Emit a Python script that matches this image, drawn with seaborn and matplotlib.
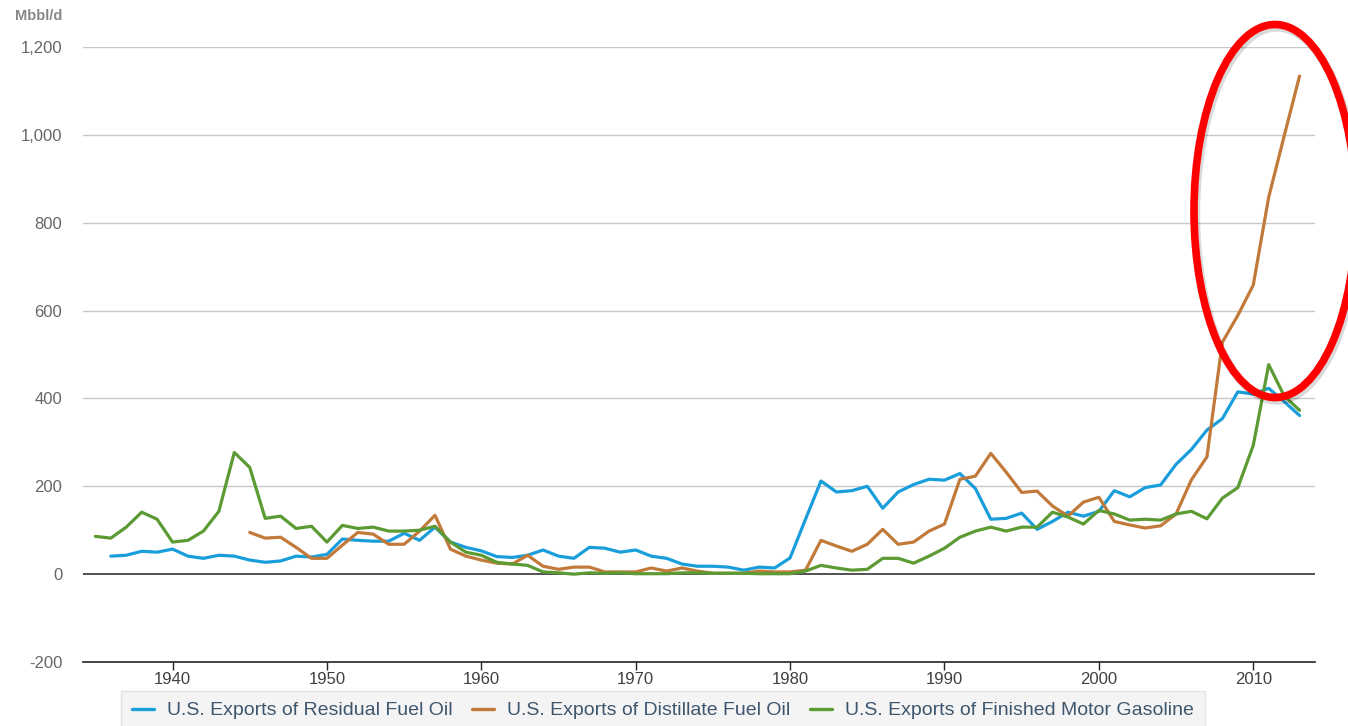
import numpy as np
import pandas as pd
import matplotlib
matplotlib.use("Agg")
import matplotlib.pyplot as plt
from matplotlib.patches import Ellipse
from matplotlib.lines import Line2D
import seaborn as sns

# ---------------- data (Mbbl/d) ----------------
residual_years = list(range(1936, 2014))
residual = [41, 43, 52, 50, 57, 41, 36, 43, 41, 32, 27, 30, 41, 39, 45, 80, 77, 75, 75, 93,
            77, 107, 73, 61, 53, 40, 38, 43, 55, 41, 36, 61, 59, 50, 55, 41, 36, 23, 18, 18,
            16, 9, 16, 14, 37, 125, 212, 187, 190, 200, 150, 187, 204, 216, 214, 229, 195, 125, 127, 139,
            102, 120, 141, 132, 143, 190, 176, 197, 203, 250, 284, 328, 354, 415, 410, 423, 393, 361]

distillate_years = list(range(1945, 2014))
distillate = [95, 82, 84, 61, 36, 36, 66, 95, 91, 68, 68, 98, 134, 57, 41, 32, 25, 23, 43, 18,
              11, 16, 16, 5, 5, 5, 14, 7, 14, 7, 2, 2, 2, 7, 5, 5, 9, 77, 64, 52,
              68, 102, 68, 73, 98, 114, 216, 223, 275, 232, 186, 189, 155, 132, 164, 175, 120, 112, 105, 110,
              137, 215, 267, 528, 589, 658, 858, 997, 1134]

gasoline_years = list(range(1935, 2014))
gasoline = [86, 82, 107, 141, 125, 73, 77, 98, 143, 277, 243, 127, 132, 104, 109, 73, 111, 104, 107, 98,
            98, 100, 109, 73, 50, 43, 27, 23, 20, 5, 3, 0, 3, 2, 3, 1, 1, 1, 3, 3,
            2, 2, 2, 1, 1, 1, 7, 20, 14, 9, 11, 36, 36, 25, 41, 59, 84, 98, 107, 98,
            107, 107, 141, 130, 114, 145, 137, 123, 125, 123, 137, 143, 126, 173, 197, 293, 477, 406, 373]

series_names = ["U.S. Exports of Residual Fuel Oil",
                "U.S. Exports of Distillate Fuel Oil",
                "U.S. Exports of Finished Motor Gasoline"]
colors = ["#1a9edb", "#c27a3b", "#5c9a34"]
x_ticks = [1940, 1950, 1960, 1970, 1980, 1990, 2000, 2010]
y_ticks = [-200, 0, 200, 400, 600, 800, 1000, 1200]
y_tick_labels = ["-200", "0", "200", "400", "600", "800", "1,000", "1,200"]
unit_label = "Mbbl/d"

df = pd.concat([
    pd.DataFrame({"year": residual_years, "value": residual, "series": series_names[0]}),
    pd.DataFrame({"year": distillate_years, "value": distillate, "series": series_names[1]}),
    pd.DataFrame({"year": gasoline_years, "value": gasoline, "series": series_names[2]}),
], ignore_index=True)

# ---------------- figure ----------------
sns.set_theme(style="white")
plt.rcParams["font.family"] = ["Liberation Sans", "DejaVu Sans"]

W, H = 1348, 726
fig = plt.figure(figsize=(W / 100, H / 100), dpi=100)
ax = fig.add_axes([83 / W, 1 - 662 / H, (1315 - 83) / W, (662 - 47) / H])

for yv in y_ticks[2:]:
    ax.axhline(yv, color="#c8c8c8", lw=1.0, zorder=0)
ax.axhline(0, color="#222222", lw=1.1, zorder=1)

sns.lineplot(data=df, x="year", y="value", hue="series", hue_order=series_names,
             palette=colors, linewidth=2.3, ax=ax, legend=False, zorder=3)

ax.set_xlim(1934.2, 2014.0)
ax.set_ylim(-200, 1200)
ax.set_xlabel("")
ax.set_ylabel("")

for s in ["top", "right", "left"]:
    ax.spines[s].set_visible(False)
ax.spines["bottom"].set_color("#222222")
ax.spines["bottom"].set_linewidth(1.2)

ax.set_xticks(x_ticks)
ax.set_xticklabels([str(t) for t in x_ticks])
ax.tick_params(axis="x", bottom=True, length=6, width=1, color="#222222",
               labelsize=12, labelcolor="#404040", pad=1)
ax.set_yticks(y_ticks)
ax.set_yticklabels(y_tick_labels)
ax.tick_params(axis="y", left=False, labelsize=12, labelcolor="#666666", pad=9)

fig.text(15 / W, 1 - 16 / H, unit_label, fontsize=10.5, fontweight="bold",
         color="#888888", ha="left", va="center")

# legend
handles = [Line2D([0], [0], color=c, lw=2.4) for c in colors]
leg = fig.legend(handles, series_names, loc="lower center", ncol=3,
                 bbox_to_anchor=(663 / W, -4 / H), frameon=True, fontsize=14,
                 handlelength=1.13, handletextpad=0.67, columnspacing=1.0,
                 borderpad=0.55, borderaxespad=0.0, fancybox=False)
leg.get_frame().set_facecolor("#f2f2f2")
leg.get_frame().set_edgecolor("#dddddd")
for t in leg.get_texts():
    t.set_color("#3e576f")

# red annotation ellipse (with soft shadow)
cx, cy, ew, eh = 1275, 211, 162, 373
shadow = Ellipse(((cx + 2) / W, 1 - (cy + 3) / H), ew / W, eh / H, transform=fig.transFigure,
                 fill=False, edgecolor="#000000", alpha=0.15, lw=6.0, zorder=9)
fig.add_artist(shadow)
ell = Ellipse((cx / W, 1 - cy / H), ew / W, eh / H, transform=fig.transFigure,
              fill=False, edgecolor="#ff0000", lw=5.5, zorder=10)
fig.add_artist(ell)

fig.savefig("out.png", dpi=100)
